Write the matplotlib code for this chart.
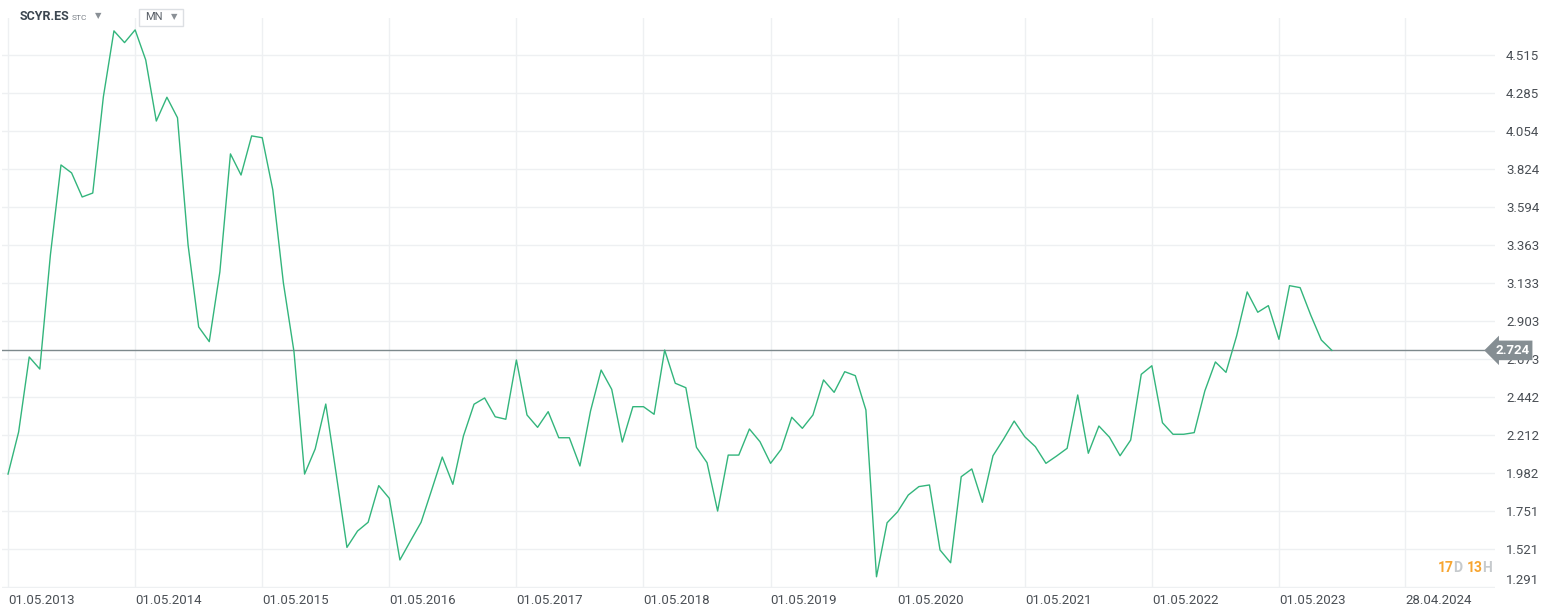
import matplotlib.pyplot as plt
from matplotlib.patches import Rectangle

plt.rcParams['font.family'] = ['Roboto', 'DejaVu Sans']

# monthly closes, first point = 01.05.2013
prices = [
    1.975, 2.230, 2.684, 2.611, 3.302, 3.847, 3.799, 3.653, 3.677, 4.259,
    4.659, 4.588, 4.665, 4.483, 4.113, 4.257, 4.133, 3.362, 2.866, 2.777,
    3.199, 3.914, 3.786, 4.023, 4.012, 3.696, 3.132, 2.716, 1.975, 2.127,
    2.399, 1.969, 1.531, 1.630, 1.683, 1.905, 1.828, 1.455, 1.570, 1.683,
    1.879, 2.078, 1.913, 2.206, 2.398, 2.436, 2.322, 2.307, 2.666, 2.333,
    2.258, 2.353, 2.195, 2.195, 2.024, 2.357, 2.605, 2.488, 2.169, 2.383,
    2.383, 2.337, 2.726, 2.525, 2.498, 2.137, 2.044, 1.751, 2.090, 2.090,
    2.248, 2.171, 2.040, 2.125, 2.319, 2.252, 2.333, 2.545, 2.470, 2.595,
    2.571, 2.363, 1.353, 1.680, 1.747, 1.848, 1.899, 1.909, 1.515, 1.438,
    1.959, 2.006, 1.804, 2.086, 2.187, 2.296, 2.201, 2.141, 2.040, 2.084,
    2.131, 2.454, 2.101, 2.266, 2.198, 2.086, 2.181, 2.579, 2.631, 2.286,
    2.216, 2.216, 2.226, 2.478, 2.654, 2.591, 2.811, 3.078, 2.955, 2.995,
    2.791, 3.116, 3.104, 2.938, 2.787, 2.724,
]
last_price = 2.724

x_ticks = [0, 12, 24, 36, 48, 60, 72, 84, 96, 108, 120, 131.9]
x_labels = ['01.05.2013', '01.05.2014', '01.05.2015', '01.05.2016',
            '01.05.2017', '01.05.2018', '01.05.2019', '01.05.2020',
            '01.05.2021', '01.05.2022', '01.05.2023', '28.04.2024']
y_ticks = [1.291, 1.521, 1.751, 1.982, 2.212, 2.442, 2.673, 2.903,
           3.133, 3.363, 3.594, 3.824, 4.054, 4.285, 4.515]

fig = plt.figure(figsize=(15.64, 6.13), dpi=100)
ax = fig.add_axes([2/1564, 25/613, 1493/1564, 570/613])

ax.plot(range(len(prices)), prices, color='#33b57c', lw=1.0, zorder=3)
ax.axhline(last_price, color='#7d898c', lw=1.0, zorder=2)

ax.set_xlim(-0.57, 140.4)
ax.set_ylim(1.285, 4.737)

ax.set_xticks(x_ticks)
ax.set_xticklabels(x_labels)
ax.set_yticks(y_ticks)
ax.set_yticklabels([f'{v:.3f}' for v in y_ticks])
ax.yaxis.tick_right()
ax.tick_params(axis='both', length=0, labelsize=9.5, labelcolor='#4a4f55')
ax.tick_params(axis='x', pad=4)
ax.tick_params(axis='y', pad=8)
for lab in ax.get_xticklabels():
    lab.set_horizontalalignment('left')
ax.get_yticklabels()[0].set_verticalalignment('bottom')

ax.grid(True, color='#eef0f2', lw=1.0)
ax.set_axisbelow(True)
for s in ax.spines.values():
    s.set_visible(False)

# current price tag
ax.text(1.0, last_price, '2.724', transform=ax.get_yaxis_transform(),
        ha='left', va='center', fontsize=9.5, color='white', fontweight='bold',
        bbox=dict(boxstyle='larrow,pad=0.25', fc='#858e93', ec='none'),
        clip_on=False, zorder=6)

# header
fig.text(20/1564, 1 - 17/613, 'SCYR.ES', fontsize=9, fontweight='bold',
         color='#3c4650', va='center')
fig.text(72/1564, 1 - 18/613, 'STC', fontsize=6, color='#7a8088', va='center')
fig.text(95/1564, 1 - 16/613, '▼', fontsize=6, color='#8a9096', va='center',
         family=['DejaVu Sans'])
fig.patches.append(Rectangle((139/1564, 1 - 26/613), 44/1564, 17/613,
                             transform=fig.transFigure, fc='white',
                             ec='#dcdfe3', lw=1.0))
fig.text(145/1564, 1 - 17.5/613, 'MN', fontsize=8, color='#5a6068', va='center')
fig.text(171/1564, 1 - 16.5/613, '▼', fontsize=6, color='#8a9096', va='center',
         family=['DejaVu Sans'])

# countdown
cx, cy = 1438/1564, 1 - 568/613
t = fig.text(cx, cy, '17', fontsize=10, fontweight='bold', color='#f7a530', va='center')
parts = [('D ', '#c6cacd'), ('13', '#f7a530'), ('H', '#c6cacd')]
fig.canvas.draw()
r = fig.canvas.get_renderer()
prev = t
for txt, col in parts:
    bb = prev.get_window_extent(r)
    prev = fig.text(bb.x1 / fig.bbox.width, cy, txt, fontsize=10,
                    fontweight='bold', color=col, va='center')

fig.savefig('out.png', dpi=100, facecolor='white')
